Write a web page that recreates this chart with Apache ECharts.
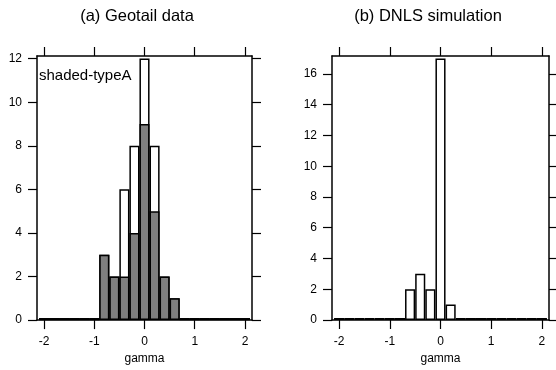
<!DOCTYPE html>
<html>
<head>
<meta charset="utf-8">
<script src="https://cdn.jsdelivr.net/npm/echarts@6/dist/echarts.min.js"></script>
<style>
html,body{margin:0;padding:0;background:#fff;}
#J_Main{width:556px;height:370px;}
</style>
</head>
<body>
<div id="J_Main"></div>
<script>
// histogram bins (gamma, bin width 0.2)
var gammaBins = [-2.0,-1.8,-1.6,-1.4,-1.2,-1.0,-0.8,-0.6,-0.4,-0.2,0.0,0.2,0.4,0.6,0.8,1.0,1.2,1.4,1.6,1.8,2.0];
// (a) Geotail data: all events / shaded-typeA events
var geotailTotal  = [0,0,0,0,0,0,3,2,6,8,12,8,2,1,0,0,0,0,0,0,0];
var geotailShaded = [0,0,0,0,0,0,3,2,2,4,9,5,2,1,0,0,0,0,0,0,0];
// (b) DNLS simulation
var dnlsCounts    = [0,0,0,0,0,0,0,2,3,2,17,1,0,0,0,0,0,0,0,0,0];

var xTicks  = [-2,-1,0,1,2];
var yTicksA = [0,2,4,6,8,10,12];
var yTicksB = [0,2,4,6,8,10,12,14,16];

var titles = ["(a) Geotail data","(b) DNLS simulation"];
var xName = "gamma";
var shadedLabel = "shaded-typeA";

function pairs(vals){
    return gammaBins.map(function(g,i){return [g,vals[i]]});
}

var fontFam = "Liberation Sans, Arial, sans-serif";

function xAxisOf(gi,pos){
    var bottom = pos=="bottom";
    return {
        type:"value",gridIndex:gi,position:pos,
        min:-2.14,max:2.14,
        name:bottom?xName:"",nameLocation:"middle",nameGap:30,
        nameTextStyle:{color:"#000",fontSize:12,fontFamily:fontFam},
        splitLine:{show:false},
        axisLine:{show:true,onZero:false,lineStyle:{color:"#000",width:1.5}},
        axisTick:{show:true,inside:false,length:9,customValues:xTicks,lineStyle:{color:"#000",width:1.2}},
        axisLabel:{show:bottom,margin:16,customValues:xTicks,color:"#000",fontSize:12,fontFamily:fontFam}
    };
}

function yAxisOf(gi,pos,max,ticks){
    var left = pos=="left";
    return {
        type:"value",gridIndex:gi,position:pos,
        min:0,max:max,
        splitLine:{show:false},
        axisLine:{show:true,onZero:false,lineStyle:{color:"#000",width:1.5}},
        axisTick:{show:true,inside:false,length:9,customValues:ticks,lineStyle:{color:"#000",width:1.2}},
        axisLabel:{show:left,margin:15,customValues:ticks,color:"#000",fontSize:12,fontFamily:fontFam}
    };
}

function barSeries(xi,yi,vals,color){
    return {
        type:"bar",xAxisIndex:xi,yAxisIndex:yi,
        data:pairs(vals),
        barWidth:10.1,barGap:"-100%",barMinHeight:2,
        itemStyle:{
            // empty bins show as a dark strip on the baseline
            color:function(p){return p.value[1]==0?"#111":color},
            borderColor:"#000",borderWidth:1.5
        },
        silent:true,animation:false
    };
}

var myChart = echarts.init(document.getElementById("J_Main"));
var option = {
    animation:false,
    grid:[
        {left:37,right:304,top:56,bottom:49},
        {left:332,right:7,top:56,bottom:50}
    ],
    xAxis:[xAxisOf(0,"bottom"),xAxisOf(0,"top"),xAxisOf(1,"bottom"),xAxisOf(1,"top")],
    yAxis:[yAxisOf(0,"left",12.12,yTicksA),yAxisOf(0,"right",12.12,yTicksA),
           yAxisOf(1,"left",17.17,yTicksB),yAxisOf(1,"right",17.17,yTicksB)],
    graphic:[
        {type:"text",x:137,y:16,style:{text:titles[0],fill:"#000",font:"16.5px "+fontFam,align:"center",verticalAlign:"middle"}},
        {type:"text",x:428,y:16,style:{text:titles[1],fill:"#000",font:"16.5px "+fontFam,align:"center",verticalAlign:"middle"}},
        {type:"text",x:39,y:76,z:10,style:{text:shadedLabel,fill:"#000",font:"15px "+fontFam,align:"left",verticalAlign:"middle"}}
    ],
    series:[
        barSeries(0,0,geotailTotal,"#fff"),
        barSeries(0,0,geotailShaded,"#7f7f7f"),
        barSeries(2,2,dnlsCounts,"#fff")
    ]
};
myChart.setOption(option);
</script>
</body>
</html>
